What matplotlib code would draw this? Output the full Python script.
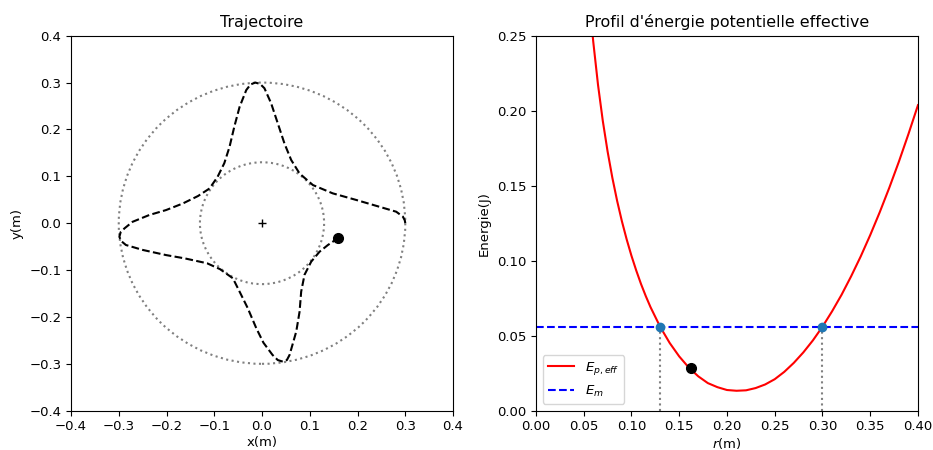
import matplotlib
matplotlib.use("Agg")
import matplotlib.pyplot as plt

plt.rcParams['font.size'] = 9.5

# trajectoire (x, y en m)
traj_x = [0.300, 0.299, 0.295, 0.281, 0.246, 0.1975, 0.148, 0.1065, 0.0786, 0.061,
          0.047, 0.033, 0.019, 0.005, -0.004, -0.014, -0.024, -0.033, -0.047, -0.058,
          -0.068, -0.079, -0.093, -0.110, -0.134, -0.166, -0.201, -0.236, -0.271, -0.288,
          -0.296, -0.2987, -0.295, -0.285, -0.250, -0.201, -0.162, -0.115, -0.088, -0.061,
          -0.047, -0.030, -0.012, 0.003, 0.022, 0.033, 0.0436, 0.052, 0.0577, 0.0717,
          0.0786, 0.082, 0.089, 0.103, 0.1205, 0.138, 0.159]
traj_y = [0.000, 0.006, 0.014, 0.0245, 0.035, 0.0495, 0.0637, 0.0814, 0.106, 0.135,
          0.170, 0.213, 0.256, 0.288, 0.297, 0.300, 0.296, 0.284, 0.248, 0.206,
          0.163, 0.128, 0.099, 0.074, 0.058, 0.042, 0.028, 0.0175, 0.003, -0.011,
          -0.019, -0.029, -0.038, -0.0465, -0.057, -0.068, -0.075, -0.0855, -0.098, -0.1175,
          -0.146, -0.181, -0.224, -0.255, -0.281, -0.292, -0.2953, -0.292, -0.281, -0.231,
          -0.189, -0.146, -0.110, -0.082, -0.0608, -0.0465, -0.032]

r_min, r_max = 0.13, 0.30
pos_x, pos_y = 0.159, -0.032

# profil d'energie potentielle effective
r_vals = [0.058, 0.06, 0.065, 0.07, 0.075, 0.08, 0.085, 0.09, 0.095, 0.10,
          0.105, 0.11, 0.115, 0.12, 0.13, 0.14, 0.15, 0.16, 0.17, 0.18,
          0.19, 0.20, 0.21, 0.22, 0.23, 0.24, 0.25, 0.26, 0.27, 0.28,
          0.29, 0.30, 0.31, 0.32, 0.33, 0.34, 0.35, 0.36, 0.37, 0.38,
          0.39, 0.40]
Ep_eff = [0.2592, 0.2460, 0.2172, 0.1932, 0.1729, 0.1553, 0.1399, 0.1263, 0.1142, 0.1033,
          0.0935, 0.0845, 0.0764, 0.0690, 0.0560, 0.0452, 0.0362, 0.0288, 0.0229, 0.0184,
          0.0157, 0.0138, 0.0133, 0.0136, 0.0151, 0.0175, 0.0210, 0.0259, 0.0319, 0.0389,
          0.0469, 0.0560, 0.0662, 0.0773, 0.0896, 0.1028, 0.1171, 0.1324, 0.1487, 0.1660,
          0.1844, 0.2037]
Em = 0.056
r_pos, Ep_pos = 0.162, 0.0288

fig, (ax1, ax2) = plt.subplots(1, 2, figsize=(9.33, 4.5), dpi=100)
fig.subplots_adjust(left=0.0761, right=0.9839, bottom=0.0873, top=0.9207, wspace=0.217)

ax1.set_title("Trajectoire")
ax1.add_patch(plt.Circle((0, 0), r_min, fill=False, color='gray', linestyle=':', linewidth=1.5))
ax1.add_patch(plt.Circle((0, 0), r_max, fill=False, color='gray', linestyle=':', linewidth=1.5))
ax1.plot(traj_x, traj_y, 'k--')
ax1.plot(0, 0, 'k+')
ax1.plot(pos_x, pos_y, 'ko', markersize=7)
ax1.set_xlim(-0.4, 0.4)
ax1.set_ylim(-0.4, 0.4)
ax1.set_xlabel("x(m)", labelpad=2)
ax1.set_ylabel("y(m)")

ax2.set_title("Profil d'énergie potentielle effective")
ax2.plot(r_vals, Ep_eff, 'r', label=r"$E_{p,eff}$")
ax2.axhline(Em, color='blue', linestyle='--', label=r"$E_m$")
ax2.plot([r_min, r_min], [0, Em], color='gray', linestyle=':')
ax2.plot([r_max, r_max], [0, Em], color='gray', linestyle=':')
ax2.plot([r_min, r_max], [Em, Em], 'o', color='C0', markersize=6)
ax2.plot(r_pos, Ep_pos, 'ko', markersize=7)
ax2.set_xlim(0, 0.4)
ax2.set_ylim(0, 0.25)
ax2.set_xlabel("$r$(m)", labelpad=2)
ax2.set_ylabel("Energie(J)")
ax2.legend(loc='lower left')

fig.savefig("out.png")
